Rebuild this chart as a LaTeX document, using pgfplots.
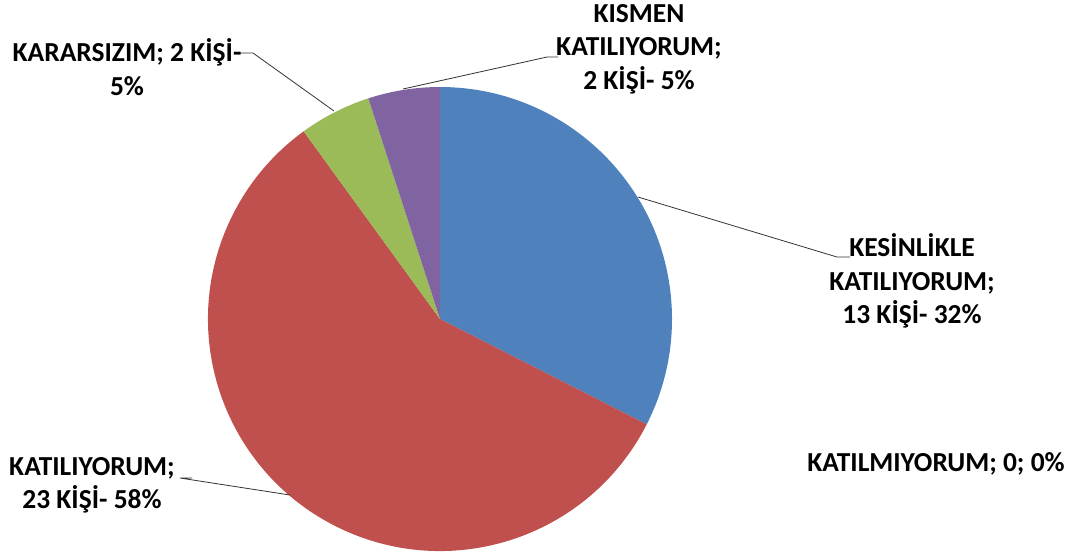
\documentclass[border=0pt]{standalone}
\usepackage{pgfplots}
\pgfplotsset{compat=1.18}
\usepackage{fontspec}
\setmainfont{Carlito}
\definecolor{cBlue}{HTML}{4F81BD}
\definecolor{cRed}{HTML}{C0504D}
\definecolor{cGreen}{HTML}{9BBB59}
\definecolor{cPurple}{HTML}{8064A2}
% data: number of people per answer
\def\vA{13} % KESINLIKLE KATILIYORUM
\def\vB{23} % KATILIYORUM
\def\vC{0}  % KATILMIYORUM
\def\vD{2}  % KARARSIZIM
\def\vE{2}  % KISMEN KATILIYORUM
\pgfmathsetmacro\vT{\vA+\vB+\vC+\vD+\vE}
\pgfmathsetmacro\aA{90}
\pgfmathsetmacro\aB{\aA-360*\vA/\vT}
\pgfmathsetmacro\aC{\aB-360*\vB/\vT}
\pgfmathsetmacro\aD{\aC-360*\vC/\vT}
\pgfmathsetmacro\aE{\aD-360*\vD/\vT}
\pgfmathsetmacro\aF{\aE-360*\vE/\vT}
\begin{document}
\begin{tikzpicture}
\begin{axis}[x=0.75pt, y=0.75pt, xmin=0, xmax=1077, ymin=0, ymax=551,
  y dir=reverse, hide axis, clip=false]
\coordinate (ll) at (axis cs:0,551);
\coordinate (ur) at (axis cs:1077,0);
\def\R{174pt}
\fill[cBlue] (axis cs:440,319) -- ++(\aA:\R) arc[start angle=\aA, end angle=\aB, radius=\R] -- cycle;
\fill[cRed] (axis cs:440,319) -- ++(\aB:\R) arc[start angle=\aB, end angle=\aC, radius=\R] -- cycle;
\fill[cGreen] (axis cs:440,319) -- ++(\aD:\R) arc[start angle=\aD, end angle=\aE, radius=\R] -- cycle;
\fill[cPurple] (axis cs:440,319) -- ++(\aE:\R) arc[start angle=\aE, end angle=\aF, radius=\R] -- cycle;
% leader lines
\draw[black!80, line width=0.6pt] (axis cs:850,257) -- (axis cs:837,257) -- (axis cs:638,197);
\draw[black!80, line width=0.6pt] (axis cs:192,478) -- (axis cs:180,478) -- (axis cs:290,495);
\draw[black!80, line width=0.6pt] (axis cs:240,53) -- (axis cs:253,53) -- (axis cs:334,111);
\draw[black!80, line width=0.6pt] (axis cs:558,57) -- (axis cs:547,57) -- (axis cs:403,89);
% labels
\tikzset{lab/.style={align=center, inner sep=0pt, font=\bfseries\fontsize{20.6}{25}\selectfont}}
\node[lab] at (axis cs:912,281) {KESİNLİKLE\\KATILIYORUM;\\13 KİŞİ- 32\%};
\node[lab] at (axis cs:92,485) {KATILIYORUM;\\23 KİŞİ- 58\%};
\node[lab] at (axis cs:936,464) {KATILMIYORUM; 0; 0\%};
\node[lab] at (axis cs:127,67) {KARARSIZIM; 2 KİŞİ-\\5\%};
\node[lab] at (axis cs:639,49) {KISMEN\\KATILIYORUM;\\2 KİŞİ- 5\%};
\end{axis}
\pgfresetboundingbox
\path (ll) rectangle (ur);
\end{tikzpicture}
\end{document}
